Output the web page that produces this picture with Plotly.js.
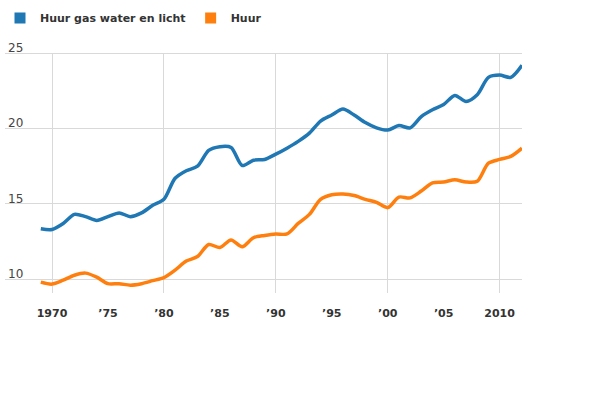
<!DOCTYPE html>
<html>
<head>
<meta charset="utf-8">
<script src="https://cdn.plot.ly/plotly-3.0.1.min.js"></script>
<style>
  html, body { margin: 0; padding: 0; background: #fff; }
  #graphDiv { width: 600px; height: 400px; }
</style>
</head>
<body>
<div id="graphDiv"></div>
<script>
// jaren en waarden
const years = [1969, 1970, 1971, 1972, 1973, 1974, 1975, 1976, 1977, 1978,
               1979, 1980, 1981, 1982, 1983, 1984, 1985, 1986, 1987, 1988,
               1989, 1990, 1991, 1992, 1993, 1994, 1995, 1996, 1997, 1998,
               1999, 2000, 2001, 2002, 2003, 2004, 2005, 2006, 2007, 2008,
               2009, 2010, 2011, 2012];

const huurGwl = [13.35, 13.3, 13.7, 14.3, 14.15, 13.9, 14.15, 14.4, 14.15, 14.4,
                 14.9, 15.3, 16.7, 17.2, 17.5, 18.55, 18.8, 18.75, 17.55, 17.9,
                 17.95, 18.3, 18.7, 19.15, 19.7, 20.5, 20.9, 21.3, 20.9, 20.4,
                 20.05, 19.9, 20.2, 20.05, 20.8, 21.25, 21.6, 22.2, 21.8, 22.25,
                 23.4, 23.55, 23.4, 24.2];

const huur = [9.8, 9.67, 9.93, 10.26, 10.4, 10.13, 9.7, 9.7, 9.6, 9.7,
              9.9, 10.1, 10.6, 11.2, 11.5, 12.3, 12.1, 12.6, 12.15, 12.75,
              12.9, 13.0, 13.0, 13.7, 14.3, 15.3, 15.6, 15.65, 15.55, 15.3,
              15.1, 14.75, 15.45, 15.4, 15.85, 16.4, 16.45, 16.6, 16.45, 16.5,
              17.7, 17.95, 18.15, 18.7];

const seriesNames = ['Huur gas water en licht', 'Huur'];
const seriesColors = ['#1f77b4', '#ff7f0e'];

const gridYears = [1970, 1980, 1990, 2000, 2010];
const labelYears = [1970, 1975, 1980, 1985, 1990, 1995, 2000, 2005, 2010];
const labelText = ['1970', '\u201975', '\u201980', '\u201985', '\u201990',
                   '\u201995', '\u201900', '\u201905', '2010'];
const yTicks = [10, 15, 20, 25];

drawGraph();

function drawGraph(){
  // lijnen op x2/y2: verticale rasterlijnen lopen dan alleen tot de 25-lijn
  const lines = [huurGwl, huur].map(function(vals, i){
    return {
      x: years,
      y: vals,
      xaxis: 'x2',
      yaxis: 'y2',
      mode: 'lines',
      type: 'scatter',
      line: {color: seriesColors[i], width: 3.5, shape: 'spline', smoothing: 0.8},
      showlegend: false
    };
  });

  // alleen voor de legenda (vierkantjes)
  const legendItems = seriesNames.map(function(name, i){
    return {
      x: [null],
      y: [null],
      mode: 'markers',
      type: 'scatter',
      name: name,
      marker: {symbol: 'square', size: 11, color: seriesColors[i]},
      showlegend: true
    };
  });

  const gridColor = '#d9d9d9';
  const xRange = [1965.8, 2012];

  const layout = {
    width: 600,
    height: 400,
    margin: {l: 5, r: 78, t: 30, b: 107},
    paper_bgcolor: '#fff',
    plot_bgcolor: 'rgba(0,0,0,0)',
    font: {family: 'DejaVu Sans, sans-serif', size: 12, color: '#333'},
    showlegend: true,
    legend: {
      orientation: 'h',
      x: -0.039,
      xanchor: 'left',
      y: 0.955,
      yanchor: 'middle',
      yref: 'container',
      itemwidth: 30,
      font: {family: 'DejaVu Sans, sans-serif', size: 11, color: '#333', weight: 'bold'},
      bgcolor: 'rgba(0,0,0,0)'
    },
    xaxis: {
      range: xRange,
      domain: [0, 1],
      anchor: 'y',
      tickmode: 'array',
      tickvals: labelYears,
      ticktext: labelText,
      ticks: '',
      ticklabelstandoff: 12,
      showgrid: false,
      zeroline: false,
      showline: false,
      tickfont: {family: 'DejaVu Sans, sans-serif', size: 11, color: '#333', weight: 'bold'}
    },
    yaxis: {
      range: [9.08, 26.38],
      domain: [0, 1],
      tickmode: 'array',
      tickvals: yTicks,
      ticks: '',
      ticklabelposition: 'inside top',
      ticklabelshift: 3,
      showgrid: true,
      gridcolor: gridColor,
      gridwidth: 1,
      zeroline: false,
      showline: false,
      tickfont: {family: 'DejaVu Sans, sans-serif', size: 12, color: '#444'}
    },
    xaxis2: {
      range: xRange,
      domain: [0, 1],
      anchor: 'y2',
      tickmode: 'array',
      tickvals: gridYears,
      showticklabels: false,
      ticks: '',
      showgrid: true,
      gridcolor: gridColor,
      gridwidth: 1,
      zeroline: false,
      showline: false
    },
    yaxis2: {
      range: [9.08, 25],
      domain: [0, 0.9202],
      anchor: 'x2',
      showticklabels: false,
      ticks: '',
      showgrid: false,
      zeroline: false,
      showline: false
    }
  };

  Plotly.newPlot('graphDiv', legendItems.concat(lines), layout, {staticPlot: true});
}
</script>
</body>
</html>
